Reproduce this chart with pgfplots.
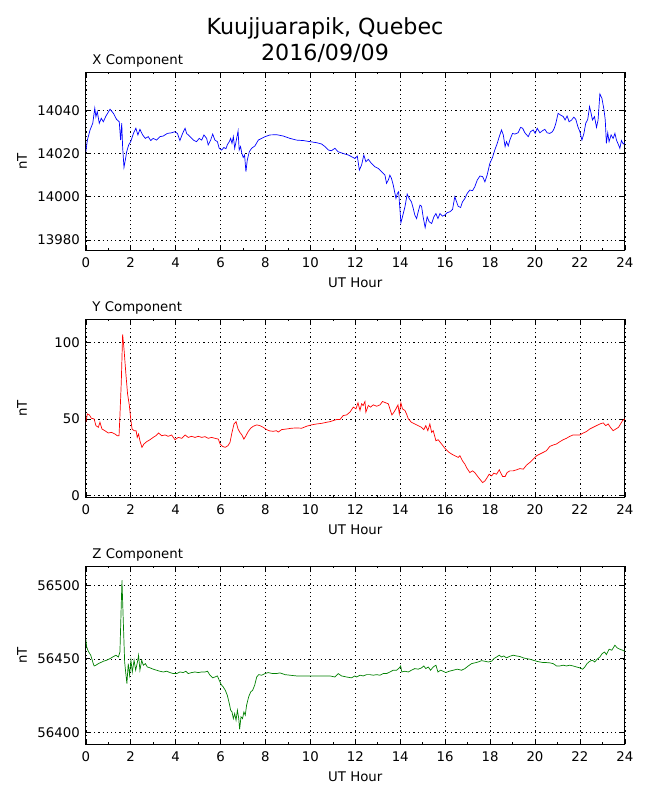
\documentclass[border=0pt]{standalone}
\usepackage{pgfplots}
\pgfplotsset{compat=1.18}
\usepackage{fontspec}
\setmainfont{DejaVu Sans}
\newcommand{\tickfont}{\fontsize{13.3bp}{16bp}\selectfont}
\newcommand{\titlefont}{\fontsize{22.2bp}{26.7bp}\selectfont}
\pgfplotsset{
  magstyle/.style={
    scale only axis, width=539bp, height=178bp,
    xmin=0, xmax=24,
    xtick={0,2,...,24}, minor xtick={1,3,...,23},
    tick align=inside, tick pos=both,
    major tick length=4.4bp, minor tick length=2.2bp,
    every tick/.style={black, line width=0.6bp},
    axis line style={black, line width=1.1bp},
    grid=major,
    major grid style={black, line width=0.5bp, dash pattern=on 1.2bp off 3bp},
    scaled y ticks=false, scaled x ticks=false,
    /pgf/number format/.cd, fixed, precision=1, 1000 sep={}, assume math mode=true, /pgfplots/.cd,
    tick label style={font=\tickfont},
    xticklabel style={anchor=base, yshift=-17bp},
    yticklabel style={anchor=east, inner sep=0pt, xshift=-5.8bp},
    xlabel={UT Hour}, ylabel={nT},
    every axis x label/.style={at={(axis description cs:0.5,-0.2079)}, anchor=base, inner sep=0pt, font=\tickfont},
    every axis y label/.style={at={(axis description cs:-0.1184,0.5)}, rotate=90, anchor=center, inner sep=0pt, font=\tickfont},
    every axis title/.style={at={(axis description cs:0,1)}, anchor=base west, inner sep=0pt, xshift=6.5bp, yshift=7.3bp, font=\tickfont},
  }
}
\begin{document}
\begin{tikzpicture}
\useasboundingbox (0,0) rectangle (650bp,800bp);
\node[anchor=base, font=\titlefont, inner sep=0pt] at (325bp,765.7bp) {Kuujjuarapik, Quebec};
\node[anchor=base, font=\titlefont, inner sep=0pt] at (325bp,739bp) {2016/09/09};

% ---------- X component ----------
\begin{axis}[magstyle, at={(85.8bp,549.7bp)}, anchor=south west,
  ymin=13975.2, ymax=14057.6, ytick={13980,14000,14020,14040},
  title={X Component}]
\addplot[blue, line width=0.7bp] coordinates {
(0,14020.8)(0.07,14026.2)(0.19,14030.9)(0.31,14034)(0.4,14041)(0.45,14037)(0.51,14039.4)
(0.6,14034)(0.69,14036.3)(0.78,14034.7)(0.9,14037.4)(1.08,14040.5)(1.23,14038.6)(1.37,14035.8)
(1.49,14034.7)(1.55,14026.2)(1.6,14034)(1.64,14023)(1.7,14013.6)(1.76,14017)(1.82,14020.8)
(1.91,14024)(2.0,14025.5)(2.12,14029.3)(2.23,14031.7)(2.32,14028.6)(2.41,14031.2)(2.53,14028.6)
(2.65,14027)(2.78,14027.8)(2.89,14026)(3.0,14027)(3.15,14026.2)(3.3,14027.8)(3.45,14028.1)
(3.63,14029.3)(3.82,14029.6)(3.97,14030.1)(4.08,14029.3)(4.19,14026)(4.31,14029.3)(4.42,14031.7)
(4.49,14029.3)(4.64,14027.8)(4.79,14026.2)(4.93,14025.5)(5.05,14027)(5.16,14026.2)(5.26,14028.6)
(5.38,14027)(5.45,14024)(5.56,14026.2)(5.65,14029)(5.75,14026.2)(5.86,14025.5)(5.94,14022.4)
(6.05,14021.6)(6.15,14022.8)(6.24,14022.2)(6.3,14024)(6.39,14025.5)(6.45,14027)(6.51,14024.7)
(6.57,14027.8)(6.63,14022.4)(6.69,14025.5)(6.78,14030.4)(6.83,14021.6)(6.89,14023.2)(6.95,14020)
(7.01,14018.2)(7.07,14019.3)(7.13,14011.6)(7.19,14017)(7.28,14020.8)(7.38,14022.4)(7.53,14023.5)
(7.68,14026.2)(7.83,14027)(7.98,14027.8)(8.2,14028.6)(8.5,14028.7)(8.79,14028.1)(9.09,14027)
(9.39,14026.2)(9.68,14026)(9.98,14025.5)(10.28,14025)(10.5,14024.4)(10.65,14023.2)(10.8,14021.6)
(10.94,14021.3)(11.09,14022.4)(11.24,14020.8)(11.46,14020)(11.69,14019.3)(11.84,14018.5)(11.98,14017.7)
(12.09,14018.8)(12.18,14012.3)(12.28,14014.7)(12.38,14019.3)(12.47,14016.2)(12.58,14017.3)
(12.72,14015.4)(12.87,14013.9)(13.02,14013.1)(13.17,14011.6)(13.32,14010)(13.39,14006.2)
(13.47,14007.7)(13.54,14010)(13.61,14008.5)(13.69,14005.4)(13.81,13999.2)(13.87,14001.5)
(13.93,14002.3)(13.99,13993.8)(14.03,13987.9)(14.1,13990.7)(14.21,13995.3)(14.31,14001.2)
(14.4,13999.2)(14.5,13997.6)(14.58,13994.6)(14.65,13991.5)(14.73,13989.9)(14.8,13993)
(14.88,13996.1)(14.95,13995.6)(15.02,13990.7)(15.11,13985.7)(15.2,13990.7)(15.29,13988.4)
(15.4,13987.6)(15.5,13990.7)(15.59,13992.2)(15.68,13989.9)(15.77,13992.2)(15.88,13991)
(15.99,13991.5)(16.09,13992.6)(16.21,13993)(16.33,13994.1)(16.43,14000)(16.51,13997.6)
(16.58,13995.6)(16.69,13995)(16.77,13997.6)(16.88,13999.2)(16.98,14001.5)(17.1,14003.1)
(17.22,14002.8)(17.32,14004.6)(17.43,14007.7)(17.55,14009.6)(17.67,14009.3)(17.77,14006.9)
(17.87,14010)(17.99,14015.4)(18.11,14018.2)(18.21,14021.6)(18.32,14024.7)(18.41,14027.8)
(18.51,14030.9)(18.59,14028.6)(18.67,14023.2)(18.73,14025.5)(18.81,14023.5)(18.88,14026.2)
(19.0,14029.3)(19.1,14029)(19.25,14029.6)(19.36,14032.1)(19.45,14031.7)(19.55,14029.6)
(19.7,14027.8)(19.8,14030.1)(19.92,14030.9)(20.01,14029.3)(20.1,14031.7)(20.22,14029.6)
(20.34,14030.6)(20.44,14031.2)(20.54,14029.6)(20.66,14029.3)(20.78,14030.1)(20.86,14031.7)
(20.93,14034)(21.03,14038.6)(21.14,14037.8)(21.26,14037.1)(21.34,14035.5)(21.43,14037.4)
(21.52,14034.7)(21.63,14035.5)(21.73,14036.8)(21.82,14035.8)(21.91,14032.4)(22.0,14030.1)
(22.09,14026.2)(22.18,14029.3)(22.26,14034)(22.35,14035.8)(22.43,14041.7)(22.5,14038.6)
(22.56,14035.5)(22.65,14037.1)(22.74,14032.1)(22.81,14035.5)(22.89,14047.6)(22.98,14045.6)
(23.07,14040.5)(23.13,14035.5)(23.18,14024.7)(23.24,14029.6)(23.3,14025.5)(23.39,14028.6)
(23.48,14027)(23.56,14029.3)(23.63,14026.2)(23.72,14024)(23.78,14022.4)(23.85,14026)
(23.93,14024.4)(24.0,14025)
};
\end{axis}

% ---------- Y component ----------
\begin{axis}[magstyle, at={(85.8bp,302.7bp)}, anchor=south west,
  ymin=-1.3, ymax=115.2, ytick={0,50,100},
  title={Y Component}]
\addplot[red, line width=0.7bp] coordinates {
(0,47.8)(0.07,53.3)(0.16,52.6)(0.25,50.4)(0.37,50)(0.45,45.6)(0.56,44.5)(0.63,47.8)(0.72,43.4)
(0.85,42.3)(1.0,40.8)(1.15,41.2)(1.3,40.1)(1.4,39)(1.48,39)(1.52,52.2)(1.58,74.1)(1.64,105.3)
(1.7,96)(1.79,78.5)(1.86,66.4)(1.94,58.8)(2.0,50)(2.06,43.4)(2.15,42.3)(2.24,42.3)(2.29,37.9)
(2.35,40.1)(2.41,35.7)(2.5,31.4)(2.59,33.6)(2.71,35.1)(2.86,36.4)(3.0,37.9)(3.12,39)(3.24,40.8)
(3.38,39)(3.53,39.5)(3.67,38.6)(3.82,39.5)(3.97,36.4)(4.12,37.9)(4.27,37.3)(4.42,39.5)(4.56,37.9)
(4.71,38.6)(4.86,37.9)(5.01,38.6)(5.16,37.9)(5.31,38.4)(5.45,37.3)(5.6,37.9)(5.75,37.3)(5.9,36.8)
(5.98,33.6)(6.09,32)(6.21,31.4)(6.33,32.5)(6.42,34.6)(6.51,41.2)(6.6,46.7)(6.69,48.2)(6.78,43.4)
(6.86,41.2)(6.95,39.5)(7.04,36.8)(7.13,39)(7.23,41.7)(7.34,43.9)(7.46,45.2)(7.61,46.1)(7.75,45.6)
(7.9,44.5)(8.05,43)(8.2,42.1)(8.35,41.9)(8.49,42.3)(8.57,41.4)(8.72,43)(8.94,43.4)(9.16,43.9)
(9.39,44.1)(9.61,43.9)(9.83,45.2)(10.05,46.1)(10.28,46.7)(10.5,47.1)(10.72,47.8)(10.87,48.2)
(11.02,48.9)(11.17,49.6)(11.32,49.6)(11.46,52.2)(11.61,52.6)(11.76,54.4)(11.91,57.7)(12.03,56.6)
(12.12,60.5)(12.21,55.5)(12.28,59.9)(12.35,58.8)(12.43,61.4)(12.47,54.4)(12.58,58.8)(12.68,57.7)
(12.8,59.2)(12.95,58.3)(13.1,59.2)(13.21,61.4)(13.36,60.5)(13.47,59.9)(13.54,56.6)(13.63,52.6)
(13.72,54.4)(13.81,56.6)(13.9,59.2)(13.96,53.3)(14.03,60.5)(14.1,56.6)(14.21,55.5)(14.28,53.3)
(14.36,50)(14.5,47.8)(14.65,46.7)(14.8,45.6)(14.95,44.5)(15.05,43)(15.14,45.6)(15.23,42.3)
(15.32,46.7)(15.4,41.2)(15.47,42.3)(15.59,35.7)(15.69,36.4)(15.84,33.6)(15.99,30.7)(16.14,28.5)
(16.29,27)(16.43,25.9)(16.58,24.8)(16.66,25.9)(16.77,22.6)(16.88,20.4)(16.98,17.5)(17.1,14.9)
(17.22,16)(17.32,14.9)(17.43,12.7)(17.55,10.5)(17.67,8.3)(17.77,9.4)(17.87,11.6)(17.96,13.8)
(18.07,12.7)(18.17,14.5)(18.29,13.8)(18.41,16.7)(18.47,14.9)(18.56,12.3)(18.67,12.3)(18.76,14.9)
(18.88,16)(19.03,16)(19.18,16.7)(19.33,17.5)(19.48,17.1)(19.62,19.7)(19.77,21.5)(19.92,23.7)
(20.07,25.9)(20.22,27)(20.37,28.1)(20.51,29.2)(20.66,32)(20.81,32.9)(20.96,33.6)(21.11,35.1)
(21.26,36.4)(21.4,37.3)(21.55,38.6)(21.7,39.5)(21.85,39.5)(22.0,39.5)(22.15,40.8)(22.29,41.7)
(22.44,43.4)(22.59,44.5)(22.74,45.6)(22.89,46.7)(23.04,47.4)(23.15,45.6)(23.26,46.7)(23.36,44.5)
(23.48,42.3)(23.6,43.4)(23.72,44.5)(23.81,46.7)(23.9,48.9)(24.0,50)
};
\end{axis}

% ---------- Z component ----------
\begin{axis}[magstyle, at={(85.8bp,55.7bp)}, anchor=south west,
  ymin=56391.8, ymax=56512.9, ytick={56400,56450,56500},
  title={Z Component}]
\addplot[green!50!black, line width=0.7bp] coordinates {
(0,56463.3)(0.04,56458)(0.11,56455.1)(0.22,56452.4)(0.31,56447.8)(0.37,56445.1)(0.45,56445.6)
(0.56,56446.7)(0.66,56447.4)(0.78,56448.3)(0.93,56449)(1.08,56450.1)(1.2,56451.2)(1.34,56452.4)
(1.45,56451.2)(1.52,56454.6)(1.57,56481.9)(1.61,56503.4)(1.67,56475.1)(1.73,56447.8)(1.79,56438.8)
(1.83,56433.1)(1.89,56446.7)(1.95,56438.8)(2.01,56449)(2.07,56441)(2.15,56449)(2.22,56442.2)
(2.3,56447.8)(2.35,56452.4)(2.41,56442.2)(2.49,56449)(2.56,56445.6)(2.65,56446.7)(2.74,56444.4)
(2.86,56443.8)(3.0,56442.9)(3.15,56442.2)(3.3,56441.5)(3.45,56441)(3.6,56441.5)(3.75,56440.6)
(3.9,56439.9)(4.05,56439.9)(4.19,56441)(4.34,56440.6)(4.46,56441.5)(4.56,56439.9)(4.71,56440.6)
(4.86,56441)(5.01,56440.6)(5.16,56441)(5.31,56441)(5.42,56441.5)(5.53,56438.8)(5.65,56437)
(5.75,56437.6)(5.86,56438.3)(5.94,56435.4)(6.03,56432.4)(6.12,56430.8)(6.21,56428.6)(6.3,56425.2)
(6.39,56419.5)(6.45,56415)(6.51,56413.8)(6.57,56409.3)(6.63,56412.7)(6.69,56408.2)(6.75,56415)
(6.81,56409.3)(6.85,56402)(6.91,56410.4)(6.98,56409.3)(7.04,56413.8)(7.1,56411.6)(7.16,56418.4)
(7.25,56424)(7.34,56427.4)(7.43,56428.6)(7.52,56432)(7.61,56437.6)(7.7,56439.2)(7.83,56438.8)
(7.98,56439.9)(8.12,56440.6)(8.32,56439.9)(8.49,56439.9)(8.64,56440.4)(8.87,56439.2)(9.09,56438.8)
(9.39,56438.3)(9.68,56438.3)(9.98,56438.3)(10.28,56438.3)(10.57,56438.3)(10.87,56438.3)
(11.09,56437.6)(11.24,56439.9)(11.39,56438.3)(11.61,56437.6)(11.83,56437)(11.98,56438.3)
(12.06,56437.6)(12.21,56438.8)(12.35,56438.3)(12.5,56439.2)(12.65,56439.2)(12.8,56438.8)
(12.95,56439.2)(13.1,56438.8)(13.24,56439.9)(13.39,56439.9)(13.54,56441)(13.69,56442.2)
(13.84,56442.2)(13.96,56443.8)(14.02,56445.1)(14.07,56441)(14.21,56441.5)(14.36,56441)
(14.5,56442.2)(14.65,56443.3)(14.8,56442.9)(14.95,56443.8)(15.05,56445.1)(15.14,56443.3)
(15.25,56444.4)(15.35,56442.2)(15.47,56444.4)(15.59,56445.6)(15.68,56441)(15.8,56442.2)
(15.91,56441.5)(16.03,56440.6)(16.18,56441.5)(16.36,56442.2)(16.54,56442.9)(16.73,56442.2)
(16.88,56443.3)(17.03,56445.1)(17.18,56446.7)(17.32,56447.2)(17.47,56447.8)(17.62,56448.7)
(17.77,56448.3)(17.92,56447.8)(18.07,56448.3)(18.17,56450.1)(18.29,56451.2)(18.41,56452.4)
(18.51,56451.2)(18.61,56451.9)(18.73,56450.6)(18.88,56451.7)(19.03,56452.4)(19.18,56451.9)
(19.33,56451.5)(19.48,56450.6)(19.62,56450.1)(19.77,56449.7)(19.92,56449)(20.07,56448.3)
(20.22,56447.8)(20.37,56447.4)(20.51,56447.4)(20.66,56447.2)(20.81,56446.7)(20.96,56445.1)
(21.11,56445.1)(21.26,56445.6)(21.4,56445.1)(21.55,56445.6)(21.7,56445.1)(21.85,56444.4)
(22.0,56443.8)(22.12,56442.9)(22.22,56444.4)(22.32,56446.7)(22.44,56448.3)(22.56,56449)
(22.66,56447.8)(22.77,56449.7)(22.89,56451.2)(22.99,56453.5)(23.1,56454.6)(23.18,56452.8)
(23.3,56456.5)(23.42,56455.8)(23.56,56459.2)(23.66,56457.4)(23.78,56456.5)(23.9,56455.8)
(24.0,56455.1)
};
\end{axis}
\end{tikzpicture}
\end{document}
